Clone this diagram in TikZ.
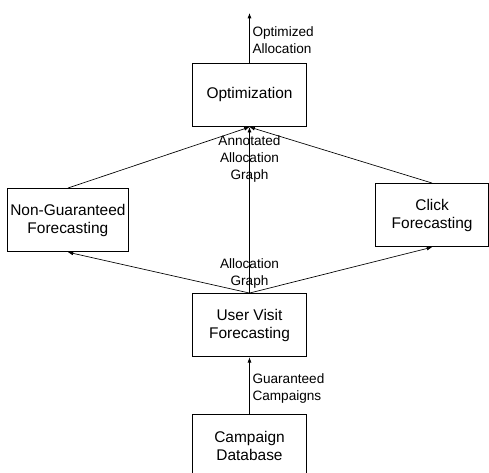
\documentclass[tikz,border=0pt]{standalone}
\usepackage{fontspec}
\setmainfont{Liberation Sans}
\usetikzlibrary{positioning}
\usetikzlibrary{arrows.meta}

\begin{document}
\begin{tikzpicture}[x=0.75pt, y=-0.75pt,
    box/.style={rectangle, draw=black, fill=white, line width=0.6pt, minimum width=86pt, minimum height=47.5pt, align=center, inner sep=2pt, font=\fontsize{11.6}{13.5}\selectfont},
    lbl/.style={align=center, inner sep=1pt, font=\fontsize{10.2}{12.75}\selectfont},
    arr/.style={-{Latex[length=4pt, width=3pt]}, black, line width=0.5pt}]

    \useasboundingbox (0,0) rectangle (489,473);

    \node[box] (Opt) at (249.5,95) {Optimization};

    \node[box, minimum width=90.75pt, below left = 45.75pt and 47.25pt of Opt.south west, anchor=north east] (NG)
        {Non-Guaranteed\\
         Forecasting};
    \node[box, minimum width=84.75pt, below right = 42pt and 51pt of Opt.south east, anchor=north west] (Click)
        {Click\\
         Forecasting};
    \node[box, below = 124.5pt of Opt] (UV)
        {User Visit\\
         Forecasting};
    \node[box, below = 42.75pt of UV] (CD)
        {Campaign\\
         Database};

    \coordinate (Out) at (249.5,13);

    \draw[arr] (Opt.north) -- (Out)
        node[lbl, pos=0.45, right=1pt, align=left] {Optimized\\Allocation};
    \draw[arr] (CD.north) -- (UV.south)
        node[lbl, pos=0.45, right=1pt, align=left] {Guaranteed\\Campaigns};
    \draw[arr] (UV.north) -- (NG.south)
        node[lbl, pos=0, above=2pt] {Allocation\\Graph};
    \draw[arr] (UV.north) -- (Click.south);
    \draw[arr] (UV.north) -- (Opt.south)
        node[lbl, pos=0.81] {Annotated\\Allocation\\Graph};
    \draw[arr] (NG.north) -- (Opt.south);
    \draw[arr] (Click.north) -- (Opt.south);
\end{tikzpicture}
\end{document}
